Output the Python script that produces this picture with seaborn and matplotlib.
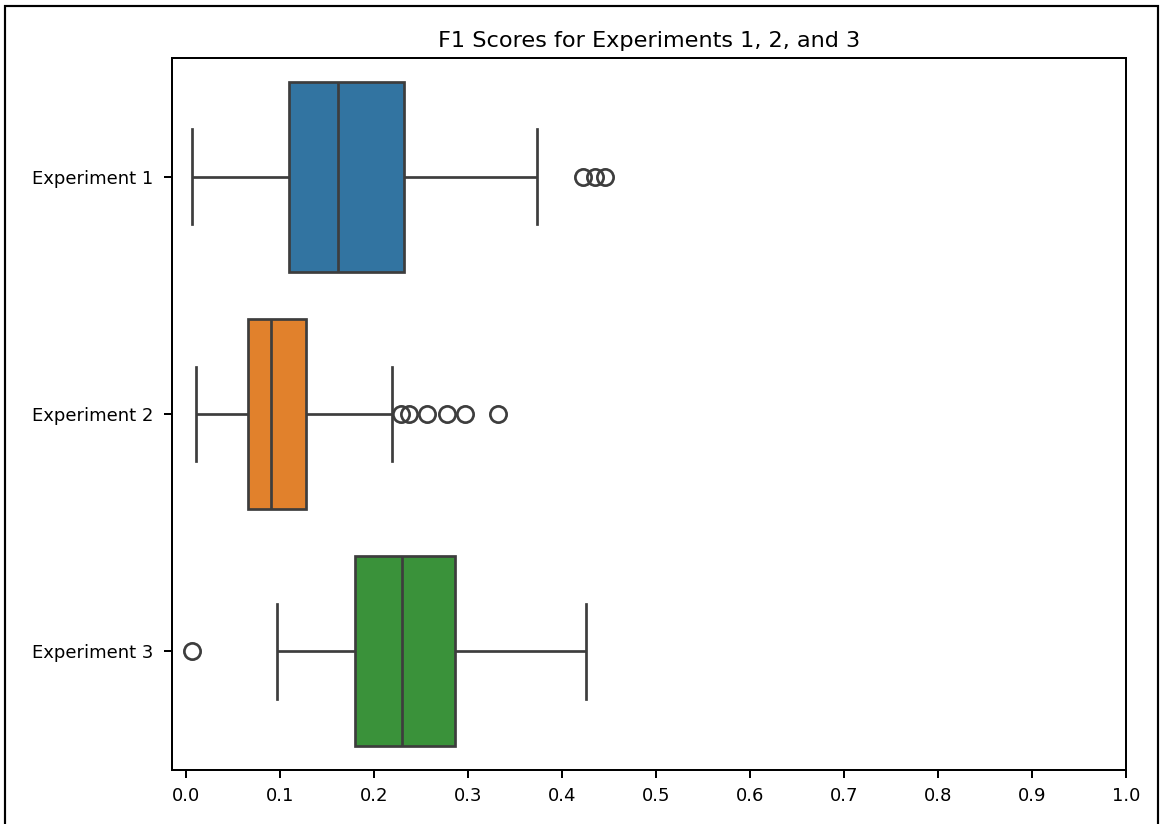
import seaborn as sns
import matplotlib.pyplot as plt
import pandas as pd
from matplotlib.patches import Rectangle

# F1 scores per experiment
experiments = ["Experiment 1", "Experiment 2", "Experiment 3"]

exp1_scores = [0.006, 0.04, 0.07, 0.09, 0.109, 0.125, 0.138, 0.15, 0.1615,
               0.18, 0.20, 0.215, 0.2314, 0.373, 0.422, 0.435, 0.4455]
exp2_scores = [0.0106, 0.02, 0.03, 0.04, 0.05, 0.055, 0.06, 0.0656,
               0.07, 0.074, 0.078, 0.082, 0.085, 0.088, 0.0905,
               0.095, 0.10, 0.105, 0.11, 0.115, 0.12, 0.1278,
               0.2194, 0.229, 0.237, 0.256, 0.2775, 0.2964, 0.332]
exp3_scores = [0.006, 0.0965, 0.13, 0.16, 0.180, 0.19, 0.205, 0.22, 0.230,
               0.245, 0.26, 0.275, 0.2857, 0.32, 0.36, 0.40, 0.4252]

x_ticks = [0.0, 0.1, 0.2, 0.3, 0.4, 0.5, 0.6, 0.7, 0.8, 0.9, 1.0]

# ----------------------------
# Long-form table for seaborn
# ----------------------------
rows = []
for name, scores in zip(experiments, [exp1_scores, exp2_scores, exp3_scores]):
    for s in scores:
        rows.append({"Experiment": name, "F1": s})
df = pd.DataFrame(rows)

plt.rcParams["axes.linewidth"] = 1.1
plt.rcParams["xtick.major.width"] = 1.1
plt.rcParams["ytick.major.width"] = 1.1
plt.rcParams["xtick.major.size"] = 4.5
plt.rcParams["ytick.major.size"] = 4.5
plt.rcParams["xtick.major.pad"] = 5
plt.rcParams["ytick.major.pad"] = 6

# ----------------------------
# Plot
# ----------------------------
fig = plt.figure(figsize=(1160 / 130, 824 / 130), dpi=130)
ax = fig.add_axes([172 / 1160, 1 - 770 / 824, (1126 - 172) / 1160, (770 - 58) / 824])

sns.boxplot(data=df, x="F1", y="Experiment", hue="Experiment",
            order=experiments, fliersize=9, linewidth=1.5,
            flierprops={"markeredgewidth": 1.5},
            ax=ax, legend=False)

ax.set_title("F1 Scores for Experiments 1, 2, and 3", fontsize=12.4)
ax.set_xlabel("")
ax.set_ylabel("")
ax.set_xticks(x_ticks)
ax.set_xlim(-0.015, 1.0)

# outer frame as in the screenshot (bottom edge cut off)
fig.patches.append(Rectangle((5 / 1160, -0.05), (1158 - 5) / 1160, 1.05 - 6 / 824,
                             transform=fig.transFigure, fill=False,
                             edgecolor="black", linewidth=1.2))

fig.savefig("out.png", dpi=130)
plt.close(fig)
